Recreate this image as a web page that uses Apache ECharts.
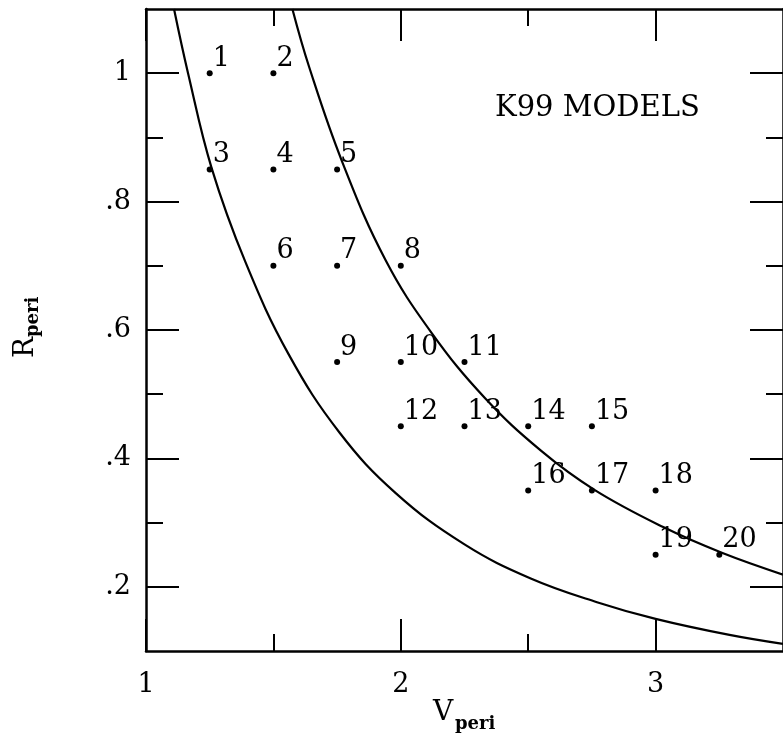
<!DOCTYPE html>
<html>
<head>
<meta charset="utf-8">
<script src="https://cdn.jsdelivr.net/npm/echarts@6/dist/echarts.min.js"></script>
<style>
html,body{margin:0;padding:0;background:#fff;overflow:hidden;}
#chart{width:783px;height:738px;}
</style>
</head>
<body>
<div id="chart"></div>
<script>
// ---- data ----
const pointIds = ['1','2','3','4','5','6','7','8','9','10','11','12','13','14','15','16','17','18','19','20'];
const vPeri = [1.25,1.5,1.25,1.5,1.75,1.5,1.75,2,1.75,2,2.25,2,2.25,2.5,2.75,2.5,2.75,3,3,3.25];
const rPeri = [1.0,1.0,0.85,0.85,0.85,0.7,0.7,0.7,0.55,0.55,0.55,0.45,0.45,0.45,0.45,0.35,0.35,0.35,0.25,0.25];

const innerCurveV = [1.11,1.165,1.257,1.39,1.56,1.76,1.98,2.25,2.51,2.77,3.0,3.29,3.5];
const innerCurveR = [1.10,1.00,0.853,0.706,0.562,0.440,0.346,0.266,0.213,0.176,0.150,0.125,0.111];
const outerCurveV = [1.5745,1.64,1.77,1.94,2.12,2.33,2.55,2.76,3.03,3.26,3.5];
const outerCurveR = [1.10,1.01,0.862,0.709,0.596,0.494,0.412,0.351,0.293,0.253,0.219];

const xMajorTicks = [1,2,3];
const xMinorTicks = [1.5,2.5];
const yMajorTicks = [0.2,0.4,0.6,0.8,1.0];
const yMinorTicks = [0.3,0.5,0.7,0.9];
const xTickLabels = ['1','2','3'];
const yTickLabels = ['.2','.4','.6','.8','1'];

const xTitle = ['V','peri'];
const yTitle = ['R','peri'];
const annotation = 'K99 MODELS';

// ---- chart ----
const SERIF = '"DejaVu Serif", serif';
const X_MIN = 1, X_MAX = 3.5, Y_MIN = 0.1, Y_MAX = 1.1;

function mkAxis(kind, pos, ticks, len, showLine, labels, labelTexts) {
  const ax = {
    type: 'value', position: pos, min: kind === 'x' ? X_MIN : Y_MIN, max: kind === 'x' ? X_MAX : Y_MAX,
    axisLine: {show: showLine, onZero: false, lineStyle: {color: '#000', width: 2.5}},
    axisTick: {show: true, inside: true, length: len, customValues: ticks, lineStyle: {color: '#000', width: 2}},
    splitLine: {show: false},
    axisLabel: {show: false}
  };
  if (labels) {
    ax.axisLabel = {
      show: true, customValues: labels, color: '#000', fontFamily: SERIF, fontSize: 27,
      margin: kind === 'x' ? 20 : 15,
      formatter: function (v) {
        const i = labels.findIndex(function (t) { return Math.abs(t - v) < 1e-6; });
        return i >= 0 ? labelTexts[i] : '';
      }
    };
  }
  return ax;
}

const chart = echarts.init(document.getElementById('chart'), null, {renderer: 'canvas'});

const pts = vPeri.map(function (v, i) { return {value: [v, rPeri[i]], name: pointIds[i]}; });
const inner = innerCurveV.map(function (v, i) { return [v, innerCurveR[i]]; });
const outer = outerCurveV.map(function (v, i) { return [v, outerCurveR[i]]; });

chart.setOption({
  animation: false,
  backgroundColor: '#fff',
  grid: {left: 146, top: 9, width: 641, height: 642, containLabel: false},
  xAxis: [
    mkAxis('x', 'bottom', xMajorTicks, 32, true, xMajorTicks, xTickLabels),
    mkAxis('x', 'bottom', xMinorTicks, 17, false),
    mkAxis('x', 'top', xMajorTicks, 32, true),
    mkAxis('x', 'top', xMinorTicks, 17, false)
  ],
  yAxis: [
    mkAxis('y', 'left', yMajorTicks, 33, true, yMajorTicks, yTickLabels),
    mkAxis('y', 'left', yMinorTicks, 17, false),
    mkAxis('y', 'right', yMajorTicks, 33, true),
    mkAxis('y', 'right', yMinorTicks, 17, false)
  ],
  series: [
    {
      type: 'line', data: inner, smooth: 0.4, showSymbol: false, clip: true,
      lineStyle: {color: '#000', width: 2.2}
    },
    {
      type: 'line', data: outer, smooth: 0.4, showSymbol: false, clip: true,
      lineStyle: {color: '#000', width: 2.2}
    },
    {
      type: 'scatter', data: pts, symbol: 'circle', symbolSize: 6,
      itemStyle: {color: '#000', opacity: 1},
      label: {
        show: true, position: 'right', distance: 0, formatter: '{b}',
        color: '#000', opacity: 1, textBorderWidth: 0, fontFamily: SERIF, fontSize: 27, lineHeight: 27,
        verticalAlign: 'bottom', align: 'left', offset: [0, -1]
      }
    }
  ],
  graphic: [
    {type: 'text', x: 495, y: 108.5, style: {text: annotation, font: '29px ' + SERIF, fill: '#000', textAlign: 'left', textVerticalAlign: 'middle'}},
    {type: 'text', x: 433, y: 712.3, style: {text: xTitle[0], font: '28px ' + SERIF, fill: '#000', textAlign: 'left', textVerticalAlign: 'middle'}},
    {type: 'text', x: 455, y: 724.8, style: {text: xTitle[1], font: 'bold 18px ' + SERIF, fill: '#000', textAlign: 'left', textVerticalAlign: 'middle'}},
    {type: 'text', x: 25.3, y: 358, rotation: Math.PI / 2, style: {text: yTitle[0], font: '28px ' + SERIF, fill: '#000', textAlign: 'left', textVerticalAlign: 'middle'}},
    {type: 'text', x: 33.8, y: 337, rotation: Math.PI / 2, style: {text: yTitle[1], font: 'bold 18px ' + SERIF, fill: '#000', textAlign: 'left', textVerticalAlign: 'middle'}}
  ]
});
</script>
</body>
</html>
